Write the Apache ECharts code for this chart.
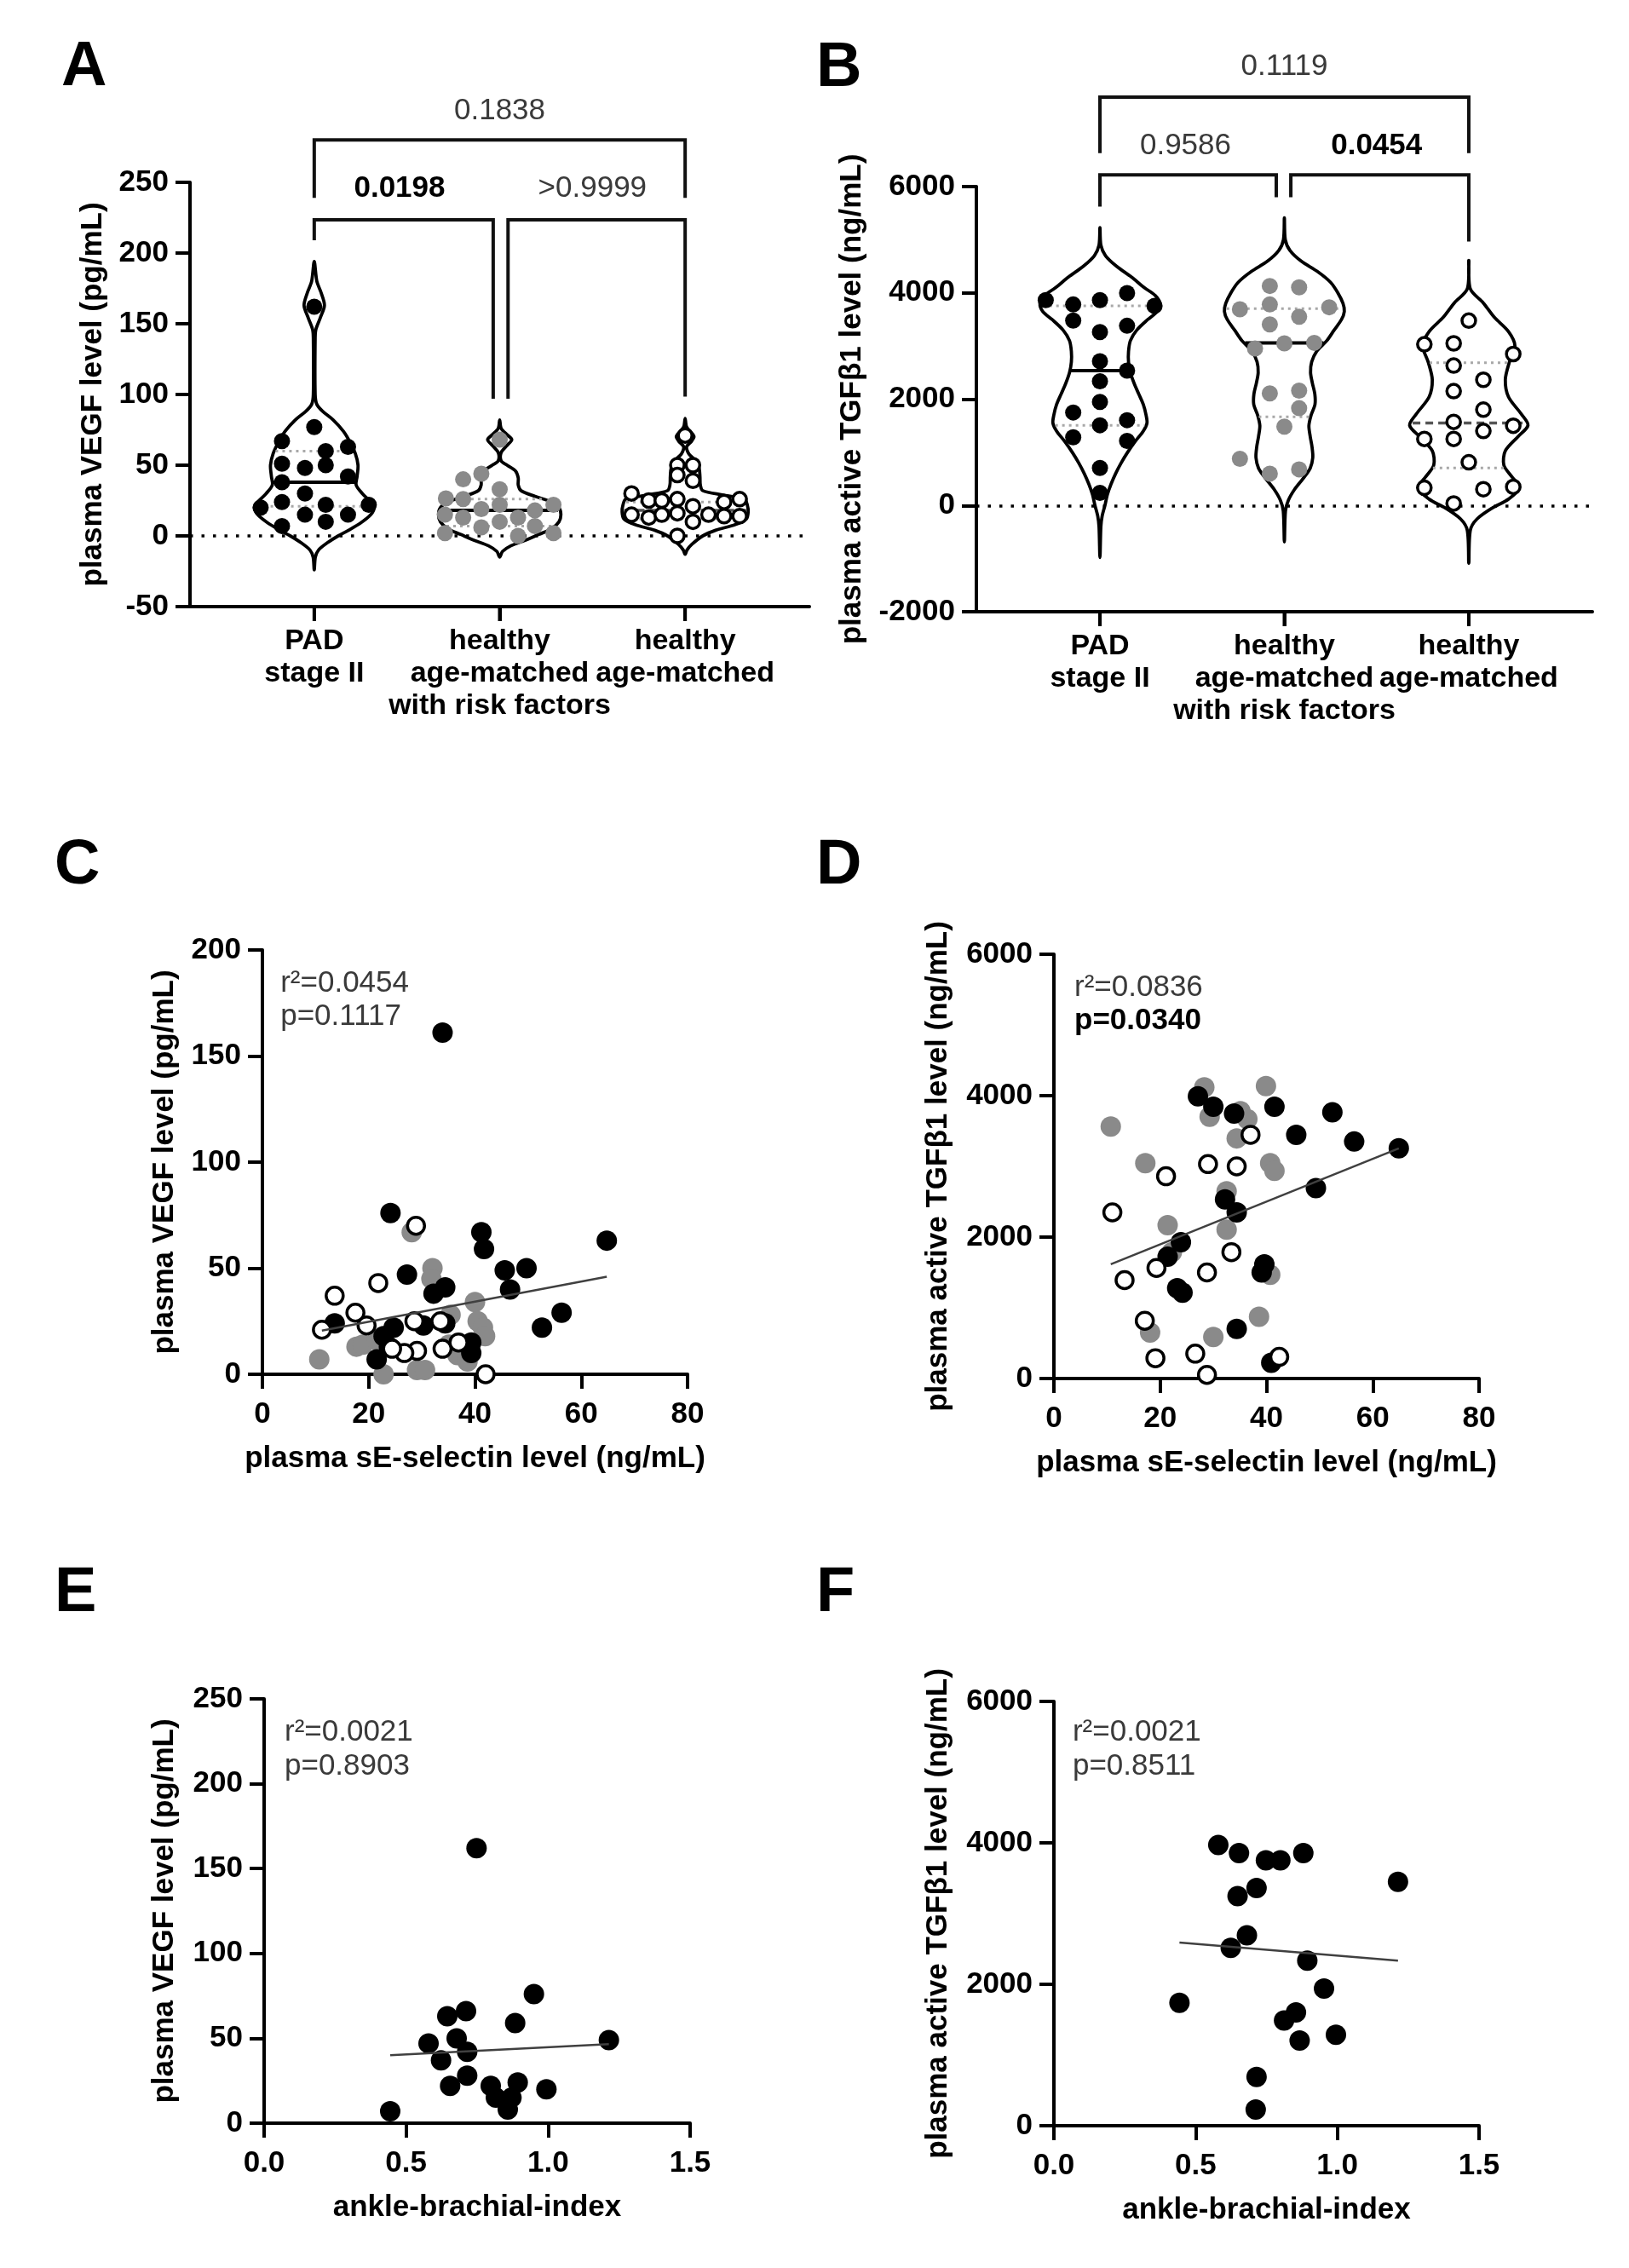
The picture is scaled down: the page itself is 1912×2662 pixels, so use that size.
<!DOCTYPE html>
<html><head><meta charset="utf-8">
<script src="https://cdn.jsdelivr.net/npm/echarts@6/dist/echarts.min.js"></script>
<style>html,body{margin:0;padding:0;background:#fff}#c{width:1912px;height:2662px}</style>
</head><body><div id="c"></div>
<script>
const FONT = "'Liberation Sans', Arial, Helvetica, sans-serif";

// ---------- category / tick labels ----------
const groupLabels = ['PAD\nstage II', 'healthy\nage-matched\nwith risk factors', 'healthy\nage-matched'];
const groupPos = [1, 2, 3];

// ---------- Panel A: VEGF per group, points [jitter offset, value] ----------
const vegfPAD = [[0,162],[0,77],[-0.174,67],[0.182,63],[0.062,60],[-0.174,51],[-0.05,48],[0.062,50],[-0.174,38],[0.182,42],[-0.05,30],[-0.289,20],[-0.174,24],[0.062,22],[0.294,22],[-0.174,7],[-0.05,15],[0.062,10],[0.182,15]];
const vegfRF = [[0,68],[-0.099,44],[-0.197,40],[0,33],[-0.29,26.5],[-0.197,26],[-0.099,19],[0,22],[0.29,22],[-0.295,15],[-0.197,13],[0.099,13],[0.19,18],[0,10],[-0.099,6],[0.19,7],[-0.295,2],[0.099,0],[0.29,2]];
const vegfHC = [[0,71],[-0.042,50],[0.042,50],[-0.042,43],[0.042,39],[-0.289,30],[-0.196,25],[-0.126,25],[-0.042,26],[0.21,24],[0.294,26],[0.042,21],[-0.289,15],[-0.196,13],[-0.126,15],[-0.042,16],[0.126,15],[0.21,14],[0.294,14],[0.042,10],[-0.042,0]];
// violin outlines [value, half width in group units]
const vegfViolinPAD = [[194,0],[180,0.014],[172,0.037],[163,0.055],[154,0.032],[146,0.009],[140,0.005],[100,0.005],[93,0.014],[88,0.046],[82,0.102],[74,0.157],[66,0.194],[58,0.222],[50,0.236],[42,0.231],[36,0.226],[30,0.259],[24,0.305],[20,0.323],[15,0.305],[9,0.249],[4,0.185],[0,0.129],[-5,0.069],[-10,0.023],[-15,0.006],[-24,0]];
const vegfViolinRF = [[82,0],[76,0.008],[71,0.045],[68,0.065],[64,0.04],[59,0.008],[53,0.008],[50,0.04],[46,0.085],[41,0.1],[36,0.1],[32,0.115],[28,0.19],[24,0.28],[20,0.32],[15,0.33],[10,0.32],[5,0.28],[1,0.21],[-3,0.14],[-7,0.06],[-11,0.015],[-15,0]];
const vegfViolinHC = [[83,0],[77,0.008],[72,0.04],[70,0.048],[67,0.035],[63,0.008],[58,0.02],[54,0.05],[48,0.075],[42,0.08],[36,0.082],[32,0.095],[29,0.2],[26,0.32],[22,0.335],[17,0.34],[12,0.33],[8,0.27],[4,0.164],[0,0.095],[-6,0.036],[-10,0.01],[-13,0]];
// [median, upper quartile, lower quartile]
const vegfStatsPAD = [38, 60, 21];
const vegfStatsRF = [18, 26, 7];
const vegfStatsHC = [18, 24, 12];
// brackets [x1, x2, top, leg1 end, leg2 end]; p texts [x, y, text, bold]
const bracketsA = [[1,3,280,239,239],[1,1.965,223.5,209,97],[2.045,3,223.5,97,98.5]];
const pTextsA = [[2,300.6,'0.1838',0],[1.46,245.5,'0.0198',1],[2.5,245.5,'>0.9999',0]];

// ---------- Panel B: active TGFβ1 ----------
const tgfPAD = [[-0.294,3863],[-0.145,3782],[0,3863],[0.147,3996],[0.296,3756],[-0.145,3478],[0.147,3381],[0,3264],[0,2712],[0.147,2536],[0,2338],[0,1947],[-0.145,1749],[0.147,1605],[0,1509],[-0.145,1284],[0.147,1214],[0,706],[0,235]];
const tgfRF = [[-0.079,4130],[0.08,4103],[-0.241,3692],[-0.079,3782],[0.243,3729],[0.08,3552],[-0.079,3408],[-0.159,2953],[0,3050],[0.162,3060],[-0.079,2108],[0.08,2161],[0.08,1830],[0,1482],[-0.241,877],[-0.079,599],[0.08,679]];
const tgfHC = [[0,3478],[-0.241,3033],[-0.082,3050],[0.241,2850],[-0.082,2632],[0.079,2365],[-0.082,2151],[0.079,1803],[-0.082,1573],[0.079,1402],[0.241,1500],[-0.241,1252],[-0.082,1252],[0,813],[-0.241,332],[0.079,305],[0.241,350],[-0.082,37]];
const tgfViolinPAD = [[5227,0],[4900,0.005],[4700,0.03],[4500,0.09],[4300,0.17],[4100,0.24],[3950,0.3],[3800,0.325],[3650,0.31],[3500,0.26],[3300,0.2],[3100,0.165],[2900,0.155],[2700,0.155],[2500,0.165],[2300,0.185],[2100,0.21],[1900,0.235],[1700,0.25],[1550,0.255],[1400,0.235],[1200,0.19],[1000,0.15],[800,0.115],[600,0.085],[400,0.06],[200,0.04],[0,0.027],[-200,0.012],[-400,0.005],[-979,0]];
const tgfViolinRF = [[5414,0],[5000,0.005],[4800,0.03],[4600,0.09],[4400,0.18],[4200,0.25],[4000,0.29],[3800,0.318],[3650,0.325],[3500,0.31],[3300,0.27],[3100,0.23],[2900,0.175],[2700,0.148],[2500,0.142],[2300,0.152],[2100,0.165],[1900,0.166],[1700,0.145],[1500,0.133],[1300,0.14],[1100,0.15],[900,0.154],[700,0.14],[500,0.1],[300,0.055],[100,0.022],[-100,0.006],[-685,0]];
const tgfViolinHC = [[4612,0],[4077,0.008],[3809,0.079],[3542,0.138],[3274,0.215],[3007,0.25],[2686,0.219],[2365,0.198],[2044,0.215],[1723,0.284],[1509,0.321],[1295,0.267],[1027,0.198],[760,0.19],[546,0.232],[332,0.275],[118,0.215],[-43,0.13],[-257,0.044],[-471,0.008],[-1086,0]];
const tgfStatsPAD = [2536, 3756, 1509];
const tgfStatsRF = [3060, 3702, 1669];
const tgfStatsHC = [1551, 2686, 706];
const bracketsB = [[1,3,7683,6631,6631],[1,1.956,6219,5624,5798],[2.035,3,6219,5798,4966]];
const pTextsB = [[2,8253,'0.1119',0],[1.464,6762,'0.9586',0],[2.5,6762,'0.0454',1]];

// ---------- Panel C: VEGF vs sE-selectin [x, y] ----------
const cPAD = [[33.9,161],[24.1,76],[41.2,67],[41.7,59],[64.8,63],[27.2,47],[45.6,49],[49.7,50],[34.4,41],[32.2,38],[46.6,40],[13.6,24],[34.4,24],[30.3,23],[24.7,22],[52.6,22],[56.3,29],[22.8,18],[39.3,15],[39.3,10],[21.5,7],[23.8,13]];
const cRF = [[28.1,67],[32.0,50],[31.8,45],[40.0,34],[40.5,25],[41.5,22],[41.9,18],[17.7,13],[18.9,14],[35.1,14],[36.7,9],[38.6,6],[10.7,7],[22.8,0],[29.1,2],[30.6,2],[21.5,16],[35.4,28]];
const cHC = [[28.9,70],[21.8,43],[13.6,37],[17.5,29],[11.2,21],[19.6,23],[28.6,25],[29.1,11],[26.7,10],[24.4,12],[33.9,12],[36.9,15],[42.0,0],[33.5,25]];
const cFit = [[11.2,20.6],[64.8,46]];
const cText = [[3.4,184.3,'r²=0.0454',0],[3.4,168.5,'p=0.1117',0]];

// ---------- Panel D: TGFβ1 vs sE-selectin ----------
const dPAD = [[27.1,3990],[30.0,3843],[33.9,3747],[41.5,3843],[52.4,3766],[45.6,3447],[56.5,3351],[64.9,3255],[49.3,2694],[32.2,2534],[34.4,2349],[23.9,1928],[21.4,1723],[39.6,1615],[39.1,1500],[23.2,1277],[24.2,1213],[34.4,702],[40.9,223]];
const dRF = [[28.3,4117],[39.9,4136],[29.3,3702],[35.1,3779],[36.4,3670],[34.4,3396],[10.7,3562],[17.2,3045],[40.7,3045],[41.5,2936],[32.5,2649],[32.5,2106],[21.4,2170],[22.2,1787],[40.7,1468],[38.6,874],[30.0,587],[18.1,651]];
const dHC = [[37.0,3447],[29.0,3032],[34.4,3000],[21.1,2860],[11.0,2349],[33.4,1787],[19.3,1564],[28.8,1500],[13.3,1392],[17.1,817],[26.6,351],[19.1,287],[42.4,306],[28.8,51]];
const dFit = [[10.7,1615],[64.9,3255]];
const dText = [[3.85,5530,'r²=0.0836',0],[3.85,5060,'p=0.0340',1]];

// ---------- Panel E: VEGF vs ABI ----------
const ePAD = [[0.748,162],[0.95,76],[0.645,63],[0.711,66],[0.884,59],[0.678,50],[1.214,49],[0.579,47],[0.715,42],[0.623,37],[0.715,28],[0.655,22],[0.893,24],[0.798,22],[0.994,20],[0.816,15],[0.871,15],[0.858,8],[0.444,7]];
const eFit = [[0.444,40],[1.214,46.6]];
const eText = [[0.072,230.4,'r²=0.0021',0],[0.072,210.3,'p=0.8903',0]];

// ---------- Panel F: TGFβ1 vs ABI ----------
const fPAD = [[0.580,3970],[0.653,3855],[0.748,3754],[0.799,3754],[0.880,3855],[0.648,3247],[0.715,3362],[1.214,3450],[0.681,2692],[0.624,2516],[0.894,2334],[0.953,1941],[0.443,1738],[0.854,1603],[0.812,1488],[0.995,1285],[0.867,1204],[0.715,690],[0.712,230]];
const fFit = [[0.443,2590],[1.214,2334]];
const fText = [[0.066,5566,'r²=0.0021',0],[0.066,5084,'p=0.8511',0]];

// ================= styling & helpers =================
const BLACK = '#000', GREY = '#8a8a8a', TXT = '#3a3a3a';
const axisLineStyle = {show:true, onZero:false, lineStyle:{color:BLACK, width:4}};
const tickStyle = {show:true, inside:false, length:17, lineStyle:{color:BLACK, width:4}};
const labelBase = {color:BLACK, fontFamily:FONT, fontSize:35, fontWeight:'bold', hideOverlap:false};
const nameBase = {color:BLACK, fontFamily:FONT, fontSize:35, fontWeight:'bold'};

function yAx(gi, min, max, interval, name, gap) {
  return {type:'value', gridIndex:gi, min, max, interval, name, nameLocation:'middle', nameGap:gap,
    nameRotate:90, nameMoveOverlap:false, nameTextStyle:nameBase, axisLine:axisLineStyle, axisTick:tickStyle,
    axisLabel:Object.assign({}, labelBase, {margin:25, formatter:v => String(v)}), splitLine:{show:false}};
}
function groupXAx(gi) {
  return {type:'value', gridIndex:gi, min:0.33, max:3.67, axisLine:axisLineStyle,
    axisTick:Object.assign({}, tickStyle, {customValues:groupPos}),
    axisLabel:{show:false}, splitLine:{show:false}};
}
function valXAx(gi, min, max, interval, name, digits) {
  return {type:'value', gridIndex:gi, min, max, interval, name, nameLocation:'middle', nameGap:82,
    nameMoveOverlap:false, nameTextStyle:nameBase, axisLine:axisLineStyle, axisTick:tickStyle,
    axisLabel:Object.assign({}, labelBase, {margin:30, formatter:v => v.toFixed(digits)}), splitLine:{show:false}};
}
function halfWidthAt(outline, v) {
  for (let i = 0; i < outline.length - 1; i++) {
    const [v0, w0] = outline[i], [v1, w1] = outline[i + 1];
    if (v <= v0 && v >= v1) { const t = (v0 - v) / (v0 - v1); return w0 + (w1 - w0) * t; }
  }
  return 0;
}
function violin(gi, cx, outline, stats, dashedMedian) {
  return {type:'custom', xAxisIndex:gi, yAxisIndex:gi, silent:true, z:2, data:[[cx, stats[0]]],
    renderItem(params, api) {
      const right = outline.map(([v, w]) => api.coord([cx + w, v]));
      const left = outline.slice(1, -1).reverse().map(([v, w]) => api.coord([cx - w, v]));
      const seg = (v, style) => {
        const w = halfWidthAt(outline, v) * 0.97;
        const a = api.coord([cx - w, v]), b = api.coord([cx + w, v]);
        return {type:'line', shape:{x1:a[0], y1:a[1], x2:b[0], y2:b[1]}, style};
      };
      const qStyle = {stroke:'#a8a8a8', lineWidth:3, lineDash:[3, 5]};
      const mStyle = dashedMedian ? {stroke:'#555', lineWidth:3.5, lineDash:[9, 6]} : {stroke:BLACK, lineWidth:4};
      return {type:'group', children:[
        {type:'polygon', shape:{points:right.concat(left), smooth:0.3}, style:{fill:'none', stroke:BLACK, lineWidth:3.8}},
        seg(stats[1], qStyle), seg(stats[2], qStyle), seg(stats[0], mStyle)
      ]};
    }};
}
const kindStyle = {
  black:{color:BLACK, opacity:1},
  grey:{color:GREY, opacity:1},
  open:{color:'#fff', borderColor:BLACK, borderWidth:3.5, opacity:1}
};
function swarm(gi, cx, arr, kind) {
  return {type:'scatter', xAxisIndex:gi, yAxisIndex:gi, z:5, silent:true, symbol:'circle',
    symbolSize: kind === 'open' ? 16 : 19, itemStyle:kindStyle[kind],
    data:arr.map(([o, v]) => [cx + o, v])};
}
function dots(gi, arr, kind) {
  return {type:'scatter', xAxisIndex:gi, yAxisIndex:gi, z:5, silent:true, symbol:'circle',
    symbolSize: kind === 'open' ? 20 : 24, itemStyle:kindStyle[kind], data:arr};
}
function fit(gi, arr) {
  return {type:'line', xAxisIndex:gi, yAxisIndex:gi, z:8, silent:true, symbol:'none', data:arr,
    lineStyle:{color:'#404040', width:2.5, opacity:1}};
}
function zeroLine(gi) {
  return {type:'line', xAxisIndex:gi, yAxisIndex:gi, data:[], silent:true,
    markLine:{silent:true, symbol:['none','none'], label:{show:false},
      lineStyle:{color:BLACK, width:3.5, type:[3.5, 10], opacity:1}, data:[{yAxis:0}]}};
}
// group names (and their ticks) under the violin x axis, anchored at the axis bottom (yMin)
function groupNameLabels(gi, yMin) {
  return {type:'custom', xAxisIndex:gi, yAxisIndex:gi, silent:true, clip:false, z:6, data:[[2, yMin]],
    renderItem(params, api) {
      const ch = [];
      groupPos.forEach((p, i) => {
        const c = api.coord([p, yMin]);
        ch.push({type:'line', shape:{x1:c[0], y1:c[1], x2:c[0], y2:c[1] + 17}, style:{stroke:BLACK, lineWidth:4}});
        ch.push({type:'text', x:c[0], y:c[1] + 22, style:{text:groupLabels[i], fontFamily:FONT, fontSize:34,
          fontWeight:'bold', fill:BLACK, align:'center', verticalAlign:'top', lineHeight:38}});
      });
      return {type:'group', children:ch};
    }};
}
function annotations(gi, brackets, texts, align) {
  return {type:'custom', xAxisIndex:gi, yAxisIndex:gi, silent:true, clip:false, z:6, data:[[1, 0]],
    renderItem(params, api) {
      const ch = [];
      brackets.forEach(([x1, x2, top, l1, l2]) => {
        const pts = [[x1, l1], [x1, top], [x2, top], [x2, l2]].map(d => api.coord(d));
        ch.push({type:'polyline', shape:{points:pts}, style:{fill:'none', stroke:'#111', lineWidth:4}});
      });
      texts.forEach(([x, y, t, b]) => {
        const c = api.coord([x, y]);
        ch.push({type:'text', x:c[0], y:c[1], style:{text:t, fontFamily:FONT, fontSize:35,
          fontWeight:b ? 'bold' : 'normal', fill:b ? BLACK : TXT, align:align, verticalAlign:'middle'}});
      });
      return {type:'group', children:ch};
    }};
}

const chart = echarts.init(document.getElementById('c'), null, {renderer:'canvas', width:1912, height:2662});
const letter = (t, x, y) => ({type:'text', x, y, style:{text:t, fontFamily:FONT, fontSize:74, fontWeight:'bold', fill:BLACK, verticalAlign:'middle'}});

chart.setOption({
  backgroundColor:'#fff',
  animation:false,
  textStyle:{fontFamily:FONT},
  graphic:[letter('A', 72, 80), letter('B', 958, 81), letter('C', 64, 1017), letter('D', 958, 1017), letter('E', 64, 1871), letter('F', 958, 1871)],
  grid:[
    {left:223, top:214, width:727, height:498, outerBoundsMode:'none'},
    {left:1146, top:219, width:723, height:499, outerBoundsMode:'none'},
    {left:308, top:1115, width:499, height:498, outerBoundsMode:'none'},
    {left:1237, top:1120, width:499, height:498, outerBoundsMode:'none'},
    {left:310, top:1994, width:500, height:498, outerBoundsMode:'none'},
    {left:1237, top:1997, width:499, height:498, outerBoundsMode:'none'}
  ],
  xAxis:[
    groupXAx(0), groupXAx(1),
    valXAx(2, 0, 80, 20, 'plasma sE-selectin level (ng/mL)', 0),
    valXAx(3, 0, 80, 20, 'plasma sE-selectin level (ng/mL)', 0),
    valXAx(4, 0, 1.5, 0.5, 'ankle-brachial-index', 1),
    valXAx(5, 0, 1.5, 0.5, 'ankle-brachial-index', 1)
  ],
  yAxis:[
    yAx(0, -50, 250, 50, 'plasma VEGF level (pg/mL)', 96),
    yAx(1, -2000, 6000, 2000, 'plasma active TGFβ1 level (ng/mL)', 128),
    yAx(2, 0, 200, 50, 'plasma VEGF level (pg/mL)', 97),
    yAx(3, 0, 6000, 2000, 'plasma active TGFβ1 level (ng/mL)', 118),
    yAx(4, 0, 250, 50, 'plasma VEGF level (pg/mL)', 99),
    yAx(5, 0, 6000, 2000, 'plasma active TGFβ1 level (ng/mL)', 118)
  ],
  series:[
    zeroLine(0), zeroLine(1),
    violin(0, 1, vegfViolinPAD, vegfStatsPAD, false),
    violin(0, 2, vegfViolinRF, vegfStatsRF, false),
    violin(0, 3, vegfViolinHC, vegfStatsHC, true),
    swarm(0, 1, vegfPAD, 'black'), swarm(0, 2, vegfRF, 'grey'), swarm(0, 3, vegfHC, 'open'),
    annotations(0, bracketsA, pTextsA, 'center'),
    groupNameLabels(0, -50),
    violin(1, 1, tgfViolinPAD, tgfStatsPAD, false),
    violin(1, 2, tgfViolinRF, tgfStatsRF, false),
    violin(1, 3, tgfViolinHC, tgfStatsHC, true),
    swarm(1, 1, tgfPAD, 'black'), swarm(1, 2, tgfRF, 'grey'), swarm(1, 3, tgfHC, 'open'),
    annotations(1, bracketsB, pTextsB, 'center'),
    groupNameLabels(1, -2000),
    dots(2, cRF, 'grey'), dots(2, cPAD, 'black'), dots(2, cHC, 'open'), fit(2, cFit), annotations(2, [], cText, 'left'),
    dots(3, dRF, 'grey'), dots(3, dPAD, 'black'), dots(3, dHC, 'open'), fit(3, dFit), annotations(3, [], dText, 'left'),
    dots(4, ePAD, 'black'), fit(4, eFit), annotations(4, [], eText, 'left'),
    dots(5, fPAD, 'black'), fit(5, fFit), annotations(5, [], fText, 'left')
  ]
});
</script>
</body></html>
